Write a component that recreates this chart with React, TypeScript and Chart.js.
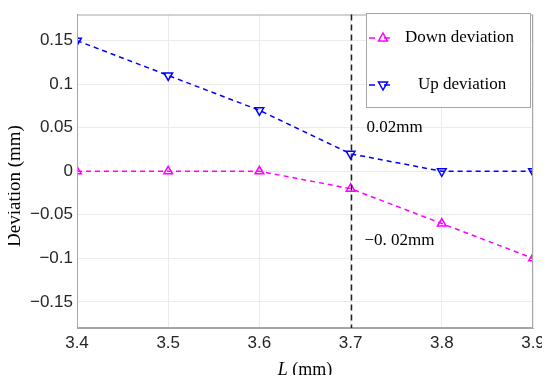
import React, { useEffect, useRef } from "react";
import { Chart, registerables } from "chart.js";

Chart.register(...registerables);

const lengths = [3.4, 3.5, 3.6, 3.7, 3.8, 3.9];
const downDeviation = [0, 0, 0, -0.02, -0.06, -0.1];
const upDeviation = [0.15, 0.11, 0.07, 0.02, 0, 0];
const yTicks = [-0.15, -0.1, -0.05, 0, 0.05, 0.1, 0.15];
const xTicks = [3.4, 3.5, 3.6, 3.7, 3.8, 3.9];
const markerX = 3.7;
const upLabel = "0.02mm";
const downLabel = "\u22120. 02mm";
const seriesNames = ["Down deviation", "Up deviation"];

const MAGENTA = "#ff00ff";
const BLUE = "#0000ff";
const SERIF = "'Liberation Serif', 'Times New Roman', serif";
const SANS = "'Liberation Sans', Arial, sans-serif";

const fmt = (v: number) => {
  const r = Math.round(v * 100) / 100;
  const s = String(Math.abs(r));
  return r < 0 ? "\u2212" + s : s;
};

const zeroPad = (s: any) => {
  s.paddingTop = 0;
  s.paddingBottom = 0;
  s.paddingLeft = 0;
  s.paddingRight = 0;
};

const overlay = {
  id: "overlay",
  afterDatasetsDraw(chart: any) {
    const { ctx, chartArea, scales } = chart;
    const x = scales.x, y = scales.y;
    ctx.save();
    ctx.strokeStyle = "#a6a6a6";
    ctx.lineWidth = 1;
    ctx.strokeRect(chartArea.left + 0.5, chartArea.top + 0.5, chartArea.right - chartArea.left - 1, chartArea.bottom - chartArea.top - 1);
    const px = Math.round(x.getPixelForValue(markerX)) + 0.5;
    ctx.strokeStyle = "#222";
    ctx.lineWidth = 1.5;
    ctx.setLineDash([6, 4]);
    ctx.beginPath();
    ctx.moveTo(px, chartArea.top);
    ctx.lineTo(px, chartArea.bottom);
    ctx.stroke();
    ctx.setLineDash([]);
    ctx.fillStyle = "#000";
    ctx.font = `17px ${SERIF}`;
    ctx.textBaseline = "middle";
    ctx.textAlign = "left";
    ctx.fillText(upLabel, px + 15, y.getPixelForValue(0.0505));
    ctx.fillText(downLabel, px + 13, y.getPixelForValue(-0.0795));
    const lx = 358, ly = 5, lw = 164, lh = 94;
    ctx.fillStyle = "#fff";
    ctx.fillRect(lx, ly, lw, lh);
    ctx.strokeStyle = "#a6a6a6";
    ctx.lineWidth = 1;
    ctx.strokeRect(lx + 0.5, ly + 0.5, lw, lh);
    const items = [
      { c: MAGENTA, rot: 0, y: ly + 25, text: seriesNames[0], tx: lx + 39 },
      { c: BLUE, rot: 180, y: ly + 72, text: seriesNames[1], tx: lx + 52 },
    ];
    items.forEach((it) => {
      ctx.strokeStyle = it.c;
      ctx.lineWidth = 1.5;
      ctx.beginPath();
      ctx.moveTo(lx + 3, it.y);
      ctx.lineTo(lx + 9, it.y);
      ctx.moveTo(lx + 18, it.y);
      ctx.lineTo(lx + 24, it.y);
      ctx.stroke();
      ctx.save();
      ctx.translate(lx + 17, it.y);
      ctx.rotate((it.rot * Math.PI) / 180);
      ctx.beginPath();
      ctx.moveTo(0, -5);
      ctx.lineTo(4.5, 3);
      ctx.lineTo(-4.5, 3);
      ctx.closePath();
      ctx.stroke();
      ctx.restore();
      ctx.fillStyle = "#000";
      ctx.font = `17px ${SERIF}`;
      ctx.textAlign = "left";
      ctx.textBaseline = "middle";
      ctx.fillText(it.text, it.tx, it.y);
    });
    ctx.restore();
  },
  afterDraw(chart: any) {
    const { ctx, chartArea } = chart;
    ctx.save();
    ctx.fillStyle = "#000";
    ctx.textBaseline = "middle";
    ctx.translate(7, 178);
    ctx.rotate(-Math.PI / 2);
    ctx.textAlign = "center";
    ctx.font = `19px ${SERIF}`;
    ctx.fillText("Deviation (mm)", 0, 0);
    ctx.restore();
    ctx.save();
    ctx.fillStyle = "#000";
    ctx.textBaseline = "middle";
    const cx = (chartArea.left + chartArea.right) / 2;
    ctx.font = `italic 18px ${SERIF}`;
    const w1 = ctx.measureText("L").width;
    ctx.font = `18px ${SERIF}`;
    const rest = " (mm)";
    const w2 = ctx.measureText(rest).width;
    const start = cx - (w1 + w2) / 2;
    ctx.textAlign = "left";
    ctx.font = `italic 18px ${SERIF}`;
    ctx.fillText("L", start, 362);
    ctx.font = `18px ${SERIF}`;
    ctx.fillText(rest, start + w1, 362);
    ctx.restore();
  },
};

export default function App() {
  const ref = useRef<HTMLCanvasElement | null>(null);
  useEffect(() => {
    if (!ref.current) return;
    const mk = (vals: number[]) => lengths.map((x, i) => ({ x, y: vals[i] }));
    const chart = new Chart(ref.current, {
      type: "line",
      data: {
        datasets: [
          {
            label: seriesNames[0],
            data: mk(downDeviation),
            borderColor: MAGENTA,
            backgroundColor: "transparent",
            borderWidth: 1.5,
            borderDash: [5, 4],
            pointStyle: "triangle",
            pointRadius: 5,
            pointBorderWidth: 1.5,
            pointBorderColor: MAGENTA,
            pointBackgroundColor: "rgba(0,0,0,0)",
          },
          {
            label: seriesNames[1],
            data: mk(upDeviation),
            borderColor: BLUE,
            backgroundColor: "transparent",
            borderWidth: 1.5,
            borderDash: [5, 4],
            pointStyle: "triangle",
            pointRotation: 180,
            pointRadius: 5,
            pointBorderWidth: 1.5,
            pointBorderColor: BLUE,
            pointBackgroundColor: "rgba(0,0,0,0)",
          },
        ],
      },
      options: {
        animation: false,
        responsive: false,
        maintainAspectRatio: false,
        layout: { padding: { top: 0, right: 17, left: 0, bottom: 0 } },
        plugins: { legend: { display: false }, tooltip: { enabled: false } },
        scales: {
          x: {
            type: "linear",
            min: 3.4,
            max: 3.9,
            afterBuildTicks: (s: any) => {
              s.ticks = xTicks.map((v) => ({ value: v }));
            },
            afterFit: (s: any) => {
              s.height = 47;
              zeroPad(s);
            },
            ticks: {
              color: "#262626",
              font: { family: SANS, size: 17 },
              padding: 5,
              callback: (v: any) => Number(v).toFixed(1),
              maxRotation: 0,
            },
            grid: { color: "#ebebeb", drawTicks: false },
            border: { color: "#a6a6a6" },
          },
          y: {
            type: "linear",
            min: -0.18,
            max: 0.18,
            afterBuildTicks: (s: any) => {
              s.ticks = yTicks.map((v) => ({ value: v }));
            },
            afterFit: (s: any) => {
              s.width = 69;
              zeroPad(s);
            },
            ticks: {
              color: "#262626",
              font: { family: SANS, size: 17 },
              padding: 4,
              callback: (v: any) => fmt(Number(v)),
            },
            grid: { color: "#ebebeb", drawTicks: false },
            border: { color: "#a6a6a6" },
          },
        },
      },
      plugins: [overlay],
    });
    return () => chart.destroy();
  }, []);
  return (
    <div style={{ width: 542, height: 367 }}>
      <canvas ref={ref} width={542} height={367} style={{ display: "block", width: 542, height: 367 }} />
    </div>
  );
}
